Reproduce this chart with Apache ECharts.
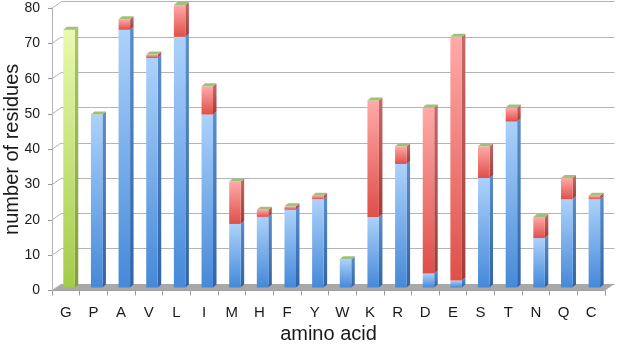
<!DOCTYPE html>
<html>
<head>
<meta charset="utf-8">
<script src="https://cdn.jsdelivr.net/npm/echarts@6/dist/echarts.min.js"></script>
<style>
html,body{margin:0;padding:0;background:#fff;}
#chart{width:617px;height:344px;}
</style>
</head>
<body>
<div id="chart"></div>
<script>
// ---- data ----
var categories = ['G','P','A','V','L','I','M','H','F','Y','W','K','R','D','E','S','T','N','Q','C'];
var blueValues  = [0,49,73,65,71,49,18,20,22,25,8,20,35,4,2,31,47,14,25,25];
var redValues   = [0,0,3,1,9,8,12,2,1,1,0,33,5,47,69,9,4,6,6,1];
var greenValues = [73,0,0,0,0,0,0,0,0,0,0,0,0,0,0,0,0,0,0,0];
var yTicks = [0,10,20,30,40,50,60,70,80];

// ---- styling constants ----
var DX = 9.5, DY = -6.5;        // depth of the floor/back wall
var BDX = 3.5, BDY = -3;        // depth of each bar
var BAR_W = 11.5;
var BAR_SHIFT_X = 3.2, BAR_SHIFT_Y = -3;

function grad(top, bottom){
  return new echarts.graphic.LinearGradient(0,0,0,1,[{offset:0,color:top},{offset:1,color:bottom}]);
}
var palettes = {
  blue:  {front: ['#acd2fb','#4589d8'], side: ['#5a8dcc','#2f64a8']},
  red:   {front: ['#ffaaa8','#df4f49'], side: ['#c46a68','#a23b37']},
  green: {front: ['#e8faae','#a4cb4a'], side: ['#a9c66a','#80a03c']}
};
var CAP = '#9dc27a';

var barData = categories.map(function(c,i){ return [i, blueValues[i], redValues[i], greenValues[i]]; });

function renderBars(params, api){
  var i = api.value(0);
  var segs = [['blue', api.value(1)], ['red', api.value(2)], ['green', api.value(3)]];
  var c0 = api.coord([i, 0]);
  var cx = c0[0] + BAR_SHIFT_X;
  var left = cx - BAR_W/2, right = cx + BAR_W/2;
  var children = [];
  var acc = 0;
  var topY = null;
  segs.forEach(function(s){
    var v = s[1];
    if (!v) return;
    var yb = api.coord([i, acc])[1] + BAR_SHIFT_Y;
    var yt = api.coord([i, acc + v])[1] + BAR_SHIFT_Y;
    acc += v;
    var p = palettes[s[0]];
    children.push({type:'polygon', shape:{points:[[right,yb],[right,yt],[right+BDX,yt+BDY],[right+BDX,yb+BDY]]},
      style:{fill: grad(p.side[0], p.side[1])}});
    children.push({type:'rect', shape:{x:left, y:yt, width:BAR_W, height:yb-yt},
      style:{fill: grad(p.front[0], p.front[1])}});
    topY = yt;
  });
  if (topY !== null){
    children.push({type:'polygon', shape:{points:[[left,topY],[right,topY],[right+BDX,topY+BDY],[left+BDX,topY+BDY]]},
      style:{fill: CAP}});
  }
  return {type:'group', children:children};
}

function renderFloor(params, api){
  var bw = api.size([1,0])[0];
  var a = api.coord([0,0]), b = api.coord([categories.length-1,0]);
  var x0 = a[0] - bw/2, x1 = b[0] + bw/2, y0 = a[1];
  return {type:'polygon', shape:{points:[[x0,y0],[x1,y0],[x1+DX,y0+DY],[x0+DX,y0+DY]]},
    style:{fill:'#a8a8a8'}};
}

function renderWall(params, api){
  var bw = api.size([1,0])[0];
  var p = api.coord([0, api.value(1)]);
  var x0 = p[0] - bw/2;
  return {type:'line', shape:{x1:x0, y1:p[1], x2:x0+DX, y2:p[1]+DY},
    style:{stroke:'#b4b4b4', lineWidth:1}};
}

var chart = echarts.init(document.getElementById('chart'), null, {renderer:'canvas'});
var FONT = 'Liberation Sans, Arial, sans-serif';
chart.setOption({
  animation:false,
  backgroundColor:'#ffffff',
  grid:[
    {left:52, right:12, top:8.1, bottom:53.5, containLabel:false, outerBoundsMode:'none'},
    {left:52+DX, right:12-DX, top:8.1+DY, bottom:53.5-DY, containLabel:false, outerBoundsMode:'none'}
  ],
  xAxis:[
    {type:'category', data:categories, gridIndex:0,
     axisLine:{lineStyle:{color:'#9a9a9a'}},
     axisTick:{show:true, interval:0, length:5, lineStyle:{color:'#9a9a9a'}},
     axisLabel:{fontSize:15, color:'#1a1a1a', margin:15, fontFamily:FONT},
     name:'amino acid', nameLocation:'middle', nameGap:34, nameMoveOverlap:false,
     nameTextStyle:{fontSize:20, color:'#1a1a1a', fontFamily:FONT}},
    {type:'category', data:categories, gridIndex:1, show:false}
  ],
  yAxis:[
    {type:'value', gridIndex:0, min:0, max:80, interval:10,
     axisLine:{show:true, lineStyle:{color:'#b4b4b4'}},
     axisTick:{show:true, length:4, lineStyle:{color:'#9a9a9a'}},
     splitLine:{show:false},
     axisLabel:{fontSize:14, color:'#1a1a1a', margin:12, fontFamily:FONT},
     name:'number of residues', nameLocation:'middle', nameGap:30, nameRotate:90, nameMoveOverlap:false,
     nameTextStyle:{fontSize:20, color:'#1a1a1a', fontFamily:FONT}},
    {type:'value', gridIndex:1, min:0, max:80, interval:10,
     axisLine:{show:false}, axisTick:{show:false}, axisLabel:{show:false},
     splitLine:{show:true, lineStyle:{color:'#b4b4b4', width:1.2}}}
  ],
  series:[
    {type:'custom', xAxisIndex:0, yAxisIndex:0, z:1, renderItem:renderFloor, data:[[0,0]], silent:true},
    {type:'custom', xAxisIndex:0, yAxisIndex:0, z:1, renderItem:renderWall,
     data:yTicks.map(function(v){return [0,v];}), silent:true},
    {type:'custom', xAxisIndex:0, yAxisIndex:0, z:5, renderItem:renderBars, data:barData,
     encode:{x:0, y:[1,2,3]}}
  ]
});
</script>
</body>
</html>
